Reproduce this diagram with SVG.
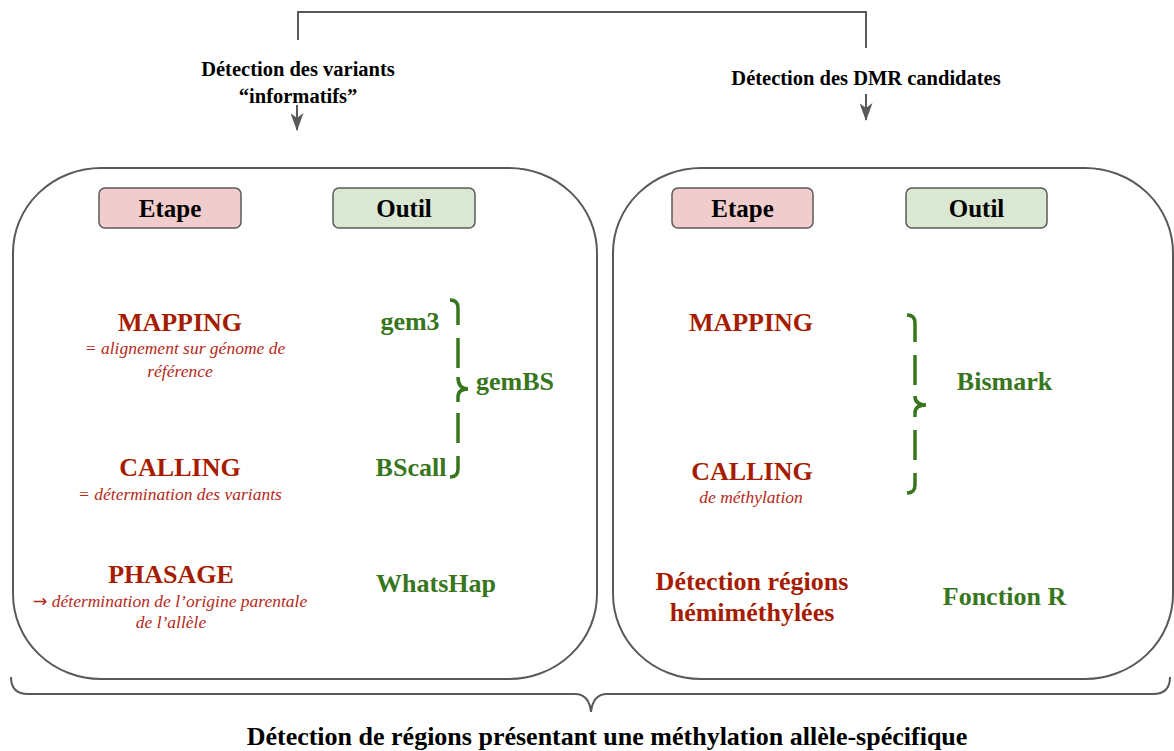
<svg xmlns="http://www.w3.org/2000/svg" width="1174" height="751" viewBox="0 0 1174 751">
<defs>
<style>
.frame{fill:#fff;stroke:#595959;stroke-width:2}
.etape{fill:#f0cccc;stroke:#595959;stroke-width:1.5}
.outil{fill:#d9e7d3;stroke:#595959;stroke-width:1.5}
.hdr{font-family:"Liberation Serif",serif;font-weight:bold;font-size:25px;fill:#000;text-anchor:middle}
.top{font-family:"Liberation Serif",serif;font-weight:bold;font-size:20.5px;fill:#000;text-anchor:middle}
.step{font-family:"Liberation Serif",serif;font-weight:bold;font-size:26px;fill:#a61c00;text-anchor:middle}
.sub{font-family:"Liberation Serif",serif;font-style:italic;font-size:17.5px;fill:#b5291a;text-anchor:middle}
.arrowglyph{font-family:"DejaVu Sans",sans-serif;font-style:normal}
.tool{font-family:"Liberation Serif",serif;font-weight:bold;font-size:26px;fill:#38761d;text-anchor:middle}
.conn{fill:none;stroke:#595959;stroke-width:2}
.brace{fill:none;stroke:#38761d;stroke-width:3.5}
.bottom{font-family:"Liberation Serif",serif;font-weight:bold;font-size:26px;fill:#000;text-anchor:middle}
</style>
<marker id="arr" viewBox="0 0 18 13" refX="17" refY="6.5" markerWidth="18" markerHeight="13" orient="auto" markerUnits="userSpaceOnUse">
<path d="M0,0 L18,6.5 L0,13 L5,6.5 z" fill="#595959"/>
</marker>
</defs>

<g id="connectors">
<path class="conn" d="M298,40 V12 H866 V48"/>
<path class="conn" d="M297,105 V130" marker-end="url(#arr)"/>
<path class="conn" d="M866,94 V120" marker-end="url(#arr)"/>
<path class="conn" d="M11,677 Q11,694 28,694 H575 Q589,694 591,712 Q593,694 607,694 H1153 Q1170,694 1170,677"/>
</g>

<g id="label-variants">
<text class="top" x="298" y="76">Détection des variants</text>
<text class="top" x="298" y="103">“informatifs”</text>
</g>
<g id="label-dmr">
<text class="top" x="866" y="85">Détection des DMR candidates</text>
</g>

<g id="panel-left">
<path class="frame" d="M101,168 H509 A88,85 0 0 1 597,253 V594 A88,85 0 0 1 509,679 H101 A88,85 0 0 1 13,594 V253 A88,85 0 0 1 101,168 Z"/>
<rect class="etape" x="99" y="188" width="142" height="40" rx="6"/>
<text class="hdr" x="170" y="217">Etape</text>
<rect class="outil" x="333" y="188" width="142" height="40" rx="6"/>
<text class="hdr" x="404" y="217">Outil</text>
</g>

<g id="left-mapping">
<text class="step" x="180" y="331">MAPPING</text>
<text class="sub" x="185" y="354">= alignement sur génome de</text>
<text class="sub" x="180" y="377">référence</text>
</g>
<g id="left-calling">
<text class="step" x="180" y="476">CALLING</text>
<text class="sub" x="180" y="500">= détermination des variants</text>
</g>
<g id="left-phasage">
<text class="step" x="171" y="583">PHASAGE</text>
<text class="sub" x="170" y="607"><tspan class="arrowglyph">→</tspan> détermination de l’origine parentale</text>
<text class="sub" x="171" y="628">de l’allèle</text>
</g>
<g id="tool-gem3"><text class="tool" x="410" y="330">gem3</text></g>
<g id="tool-bscall"><text class="tool" x="411" y="476">BScall</text></g>
<g id="tool-gembs"><text class="tool" x="515" y="390">gemBS</text></g>
<g id="tool-whatshap"><text class="tool" x="436" y="592">WhatsHap</text></g>
<g id="brace-left">
<path class="brace" d="M450,300 Q458,300 458,308 V325"/>
<path class="brace" d="M458,338 V368"/>
<path class="brace" d="M458,377 Q458,389 468,389 Q458,389 458,397 V402"/>
<path class="brace" d="M458,413 V443"/>
<path class="brace" d="M458,456 V469 Q458,477 450,477"/>
</g>

<g id="panel-right">
<path class="frame" d="M701,168 H1085 A88,85 0 0 1 1173,253 V594 A88,85 0 0 1 1085,679 H701 A88,85 0 0 1 613,594 V253 A88,85 0 0 1 701,168 Z"/>
<rect class="etape" x="672" y="188" width="141" height="40" rx="6"/>
<text class="hdr" x="742.5" y="217">Etape</text>
<rect class="outil" x="906" y="188" width="141" height="40" rx="6"/>
<text class="hdr" x="976.5" y="217">Outil</text>
</g>

<g id="right-mapping"><text class="step" x="751" y="331">MAPPING</text></g>
<g id="right-calling">
<text class="step" x="752" y="480">CALLING</text>
<text class="sub" x="751" y="503">de méthylation</text>
</g>
<g id="right-detection">
<text class="step" x="752" y="590">Détection régions</text>
<text class="step" x="752" y="621">hémiméthylées</text>
</g>
<g id="tool-bismark"><text class="tool" x="1004.5" y="390">Bismark</text></g>
<g id="tool-fonctionr"><text class="tool" x="1004.5" y="605">Fonction R</text></g>
<g id="brace-right">
<path class="brace" d="M907,315 Q915,315 915,323 V342"/>
<path class="brace" d="M915,355 V385"/>
<path class="brace" d="M915,396 Q915,405 926,405 Q915,405 915,413 V417"/>
<path class="brace" d="M915,430 V460"/>
<path class="brace" d="M915,473 V485 Q915,493 907,493"/>
</g>

<g id="label-bottom">
<text class="bottom" x="607" y="745">Détection de régions présentant une méthylation allèle-spécifique</text>
</g>
</svg>
